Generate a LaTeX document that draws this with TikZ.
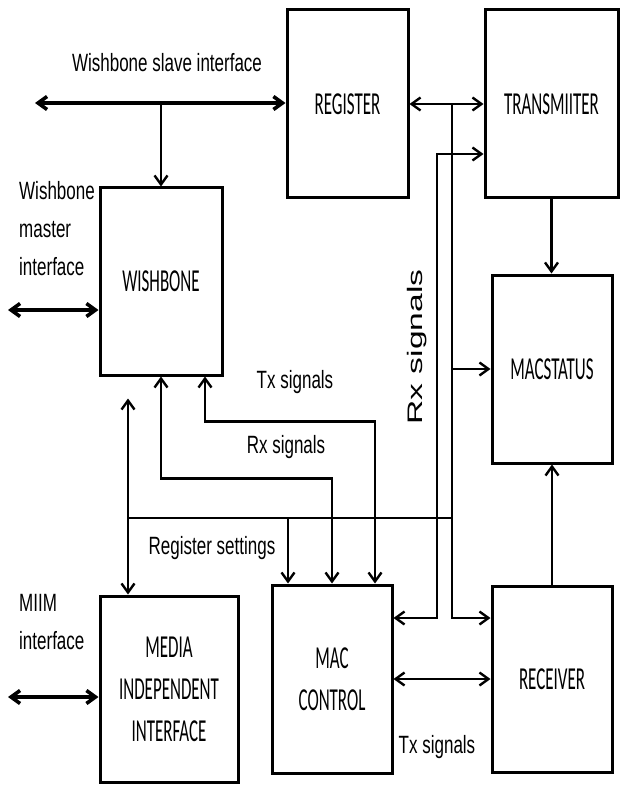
\documentclass[tikz,border=0pt]{standalone}
\usepackage{fontspec}
\usetikzlibrary{arrows.meta}
\newfontfamily\lblfont[FakeStretch=0.68]{Liberation Sans}
\newfontfamily\blkfont[FakeStretch=0.53]{Carlito}
\newfontfamily\vertfont[FakeStretch=1.6]{Liberation Sans}

\begin{document}
\begin{tikzpicture}[x=1pt, y=-1pt,
    >={Straight Barb[length=9pt, width=13pt]},
    block/.style={draw, line width=3pt, minimum height=188pt, inner sep=0pt,
                  align=center, font=\blkfont\fontsize{32}{42}\selectfont},
    sig/.style={line width=2.4pt},
    bus/.style={line width=3.6pt},
    lbl/.style={inner sep=0pt, font=\lblfont\fontsize{25}{38}\selectfont}]
    \useasboundingbox (0,0) rectangle (622,786);

    % Bloques
    \node[block, minimum width=121pt] (reg)  at (347.5,104) {REGISTER};
    \node[block, minimum width=133pt] (tx)   at (551.5,104) {TRANSMIITER};
    \node[block, minimum width=122pt, minimum height=187pt] (wb) at (161,281.5) {WISHBONE};
    \node[block, minimum width=120pt] (stat) at (552,369) {MACSTATUS};
    \node[block, minimum width=138pt, minimum height=186pt] (mii) at (169,689)
         {MEDIA\\INDEPENDENT\\INTERFACE};
    \node[block, minimum width=120pt] (ctrl) at (332,679) {MAC\\CONTROL};
    \node[block, minimum width=120pt, minimum height=186pt] (rcv) at (552,679) {RECEIVER};

    % Puntos libres
    \coordinate (slave) at (35,103);
    \coordinate (mst)   at (8,310);
    \coordinate (miim)  at (8,697);
    \coordinate (bus)   at (128,518);
    \coordinate (colA)  at (437,0);
    \coordinate (colB)  at (452,0);
    \coordinate (rowIn) at (0,618);

    % Interfaces externas
    \draw[bus, <->] (slave) -- (slave -| reg.west);
    \draw[sig, ->] (wb.north |- slave) -- (wb.north);
    \draw[bus, <->] (mst) -- (mst -| wb.west);
    \draw[bus, <->] (miim) -- (miim -| mii.west);

    % Registro, transmisor y estado
    \draw[sig, <->] (reg.east) -- (tx.west);
    \draw[sig, ->] (tx.south) -- (tx.south |- stat.north);
    \draw[sig, ->] (rcv.north) -- (stat.south);
    \draw[sig, <->] (ctrl.east) -- (rcv.west);

    % Lineas verticales de senales
    \draw[sig, ->] (colB |- reg.east) -- (colB |- rowIn) -- (rcv.west |- rowIn);
    \draw[sig, ->] (colB |- stat.west) -- (stat.west);
    \draw[sig, <->] ([yshift=-50pt]tx.west) -| (colA |- rowIn) -- (ctrl.east |- rowIn);

    % Bus de configuracion
    \draw[sig] (bus) -- (colB |- bus);
    \draw[sig, <->] ([yshift=-22pt]bus |- wb.south) -- (bus |- mii.north);
    \draw[sig, ->] ([xshift=-44pt]ctrl.north |- bus) -- ([xshift=-44pt]ctrl.north);

    % Senales Tx / Rx hacia WISHBONE
    \draw[sig, <->] (wb.south) |- ([yshift=105pt]ctrl.north) -- (ctrl.north);
    \draw[sig, <->] ([xshift=44pt]wb.south) |- ([xshift=43pt, yshift=162pt]ctrl.north)
                    -- ([xshift=43pt]ctrl.north);

    % Etiquetas
    \node[lbl] (lslave) at (167,63) {Wishbone slave interface};
    \node[lbl, anchor=north west, align=left] (lmst) at (19,181) {Wishbone\\master\\interface};
    \node[lbl, anchor=north west, align=left] (lmiim) at (19,594) {MIIM\\interface};
    \node[lbl] (lregset) at (212,548) {Register settings};
    \node[lbl] (ltx)  at (295,382) {Tx signals};
    \node[lbl] (lrx)  at (286,447) {Rx signals};
    \node[lbl] (ltx2) at (437,747) {Tx signals};
    \node[inner sep=0pt, rotate=90, font=\vertfont\fontsize{21}{21}\selectfont]
         (lrxv) at (417,347) {Rx signals};
\end{tikzpicture}
\end{document}
